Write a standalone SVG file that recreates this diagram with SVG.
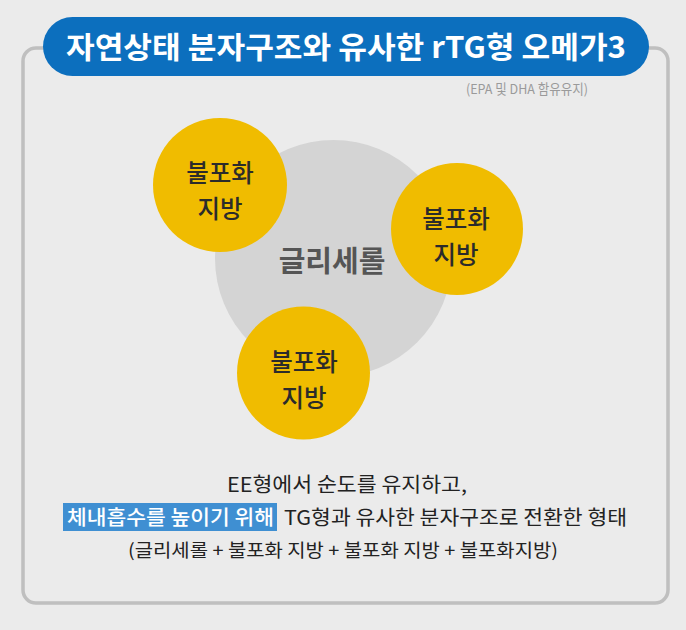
<svg xmlns="http://www.w3.org/2000/svg" width="686" height="630" viewBox="0 0 686 630">
  <style>
    text { font-family: "Noto Sans CJK KR", "Noto Sans", sans-serif; }
    .fat { fill: #f0bc00; }
    .fatText { font-size: 24.5px; fill: #2b2b2b; text-anchor: middle; font-weight: 500; }
    .body { font-size: 20px; fill: #222222; }
  </style>
  <rect x="0" y="0" width="686" height="630" fill="#ebebeb"/>
  <g id="frame">
    <rect x="23" y="48" width="645" height="555" rx="13" ry="13" fill="none" stroke="#bfbfbf" stroke-width="3.5"/>
  </g>
  <g id="title">
    <rect x="43" y="17" width="606" height="59" rx="29.5" ry="29.5" fill="#0c6fbe"/>
    <text x="346" y="58" font-size="30" font-weight="bold" fill="#ffffff" text-anchor="middle" textLength="560" lengthAdjust="spacingAndGlyphs">자연상태 분자구조와 유사한 rTG형 오메가3</text>
  </g>
  <g id="subtitle">
    <text x="588" y="94" font-size="13.5" fill="#9a9a9a" text-anchor="end" textLength="122" lengthAdjust="spacingAndGlyphs">(EPA 및 DHA 함유유지)</text>
  </g>
  <g id="connectors"></g>
  <g id="glycerol">
    <circle cx="333.5" cy="258.5" r="118.5" fill="#d4d4d4"/>
    <text x="332" y="272" font-size="29" font-weight="bold" fill="#555555" text-anchor="middle">글리세롤</text>
  </g>
  <g id="fat1">
    <circle class="fat" cx="220" cy="185" r="67"/>
    <text class="fatText" x="220" y="182">불포화</text>
    <text class="fatText" x="220" y="218">지방</text>
  </g>
  <g id="fat2">
    <circle class="fat" cx="457" cy="229" r="66"/>
    <text class="fatText" x="456" y="228">불포화</text>
    <text class="fatText" x="456" y="264">지방</text>
  </g>
  <g id="fat3">
    <circle class="fat" cx="303.5" cy="373" r="66.5"/>
    <text class="fatText" x="304" y="371">불포화</text>
    <text class="fatText" x="304" y="407">지방</text>
  </g>
  <g id="description">
    <text class="body" x="347" y="492" text-anchor="middle" textLength="240" lengthAdjust="spacingAndGlyphs">EE형에서 순도를 유지하고,</text>
    <rect x="63" y="503" width="214" height="28" fill="#3f8fd2"/>
    <text class="body" x="67" y="525" font-weight="500" textLength="207" lengthAdjust="spacingAndGlyphs" style="fill:#ffffff">체내흡수를 높이기 위해</text>
    <text class="body" x="284" y="525" textLength="343" lengthAdjust="spacingAndGlyphs">TG형과 유사한 분자구조로 전환한 형태</text>
    <text x="343" y="557" font-size="18" fill="#222222" text-anchor="middle" textLength="430" lengthAdjust="spacingAndGlyphs">(글리세롤 + 불포화 지방 + 불포화 지방 + 불포화지방)</text>
  </g>
</svg>
